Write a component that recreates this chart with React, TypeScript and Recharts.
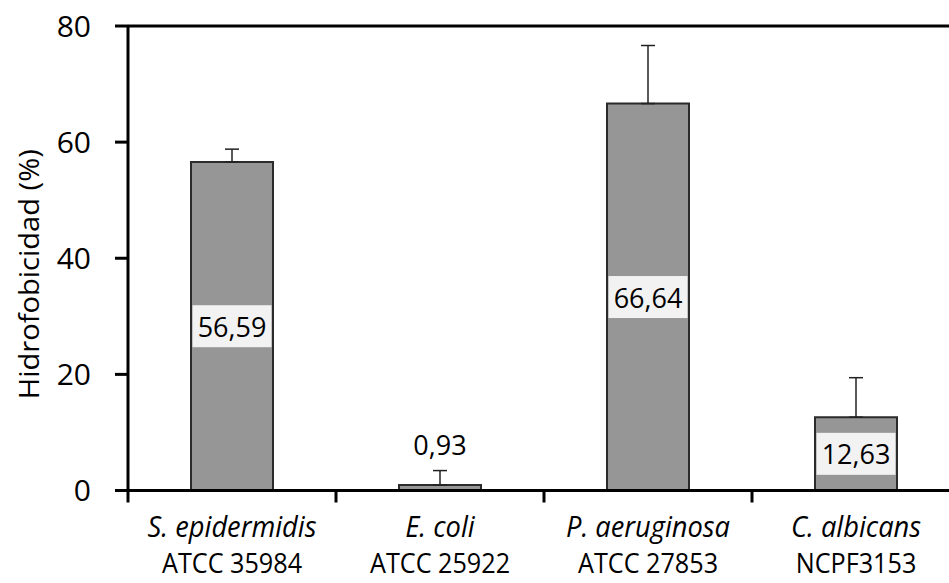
import React from 'react';
import {
  BarChart,
  Bar,
  XAxis,
  YAxis,
  ErrorBar,
  LabelList,
  Label,
  ReferenceLine,
} from 'recharts';

const species = ['S. epidermidis', 'E. coli', 'P. aeruginosa', 'C. albicans'];
const strains = ['ATCC 35984', 'ATCC 25922', 'ATCC 27853', 'NCPF3153'];
const hydrophobicity = [56.59, 0.93, 66.64, 12.63];
const deviation = [2.2, 2.5, 10.0, 6.8];
const valueLabels = ['56,59', '0,93', '66,64', '12,63'];
const yTicks = [0, 20, 40, 60, 80];

const data = species.map((s, i) => ({
  name: s,
  strain: strains[i],
  value: hydrophobicity[i],
  err: [0, deviation[i]],
  label: valueLabels[i],
}));

const FONT = '"Open Sans", "Noto Sans", sans-serif';

// two-line category label + boundary tick between categories
const CategoryTick = (props: any) => {
  const { x, y, payload, index } = props;
  const half = payload && payload.offset ? payload.offset : 104;
  return (
    <g>
      <line x1={x - half} x2={x - half} y1={y} y2={y + 12} stroke="#000" strokeWidth={3} />
      <g transform={`translate(${x}, 0) scale(0.94, 1)`}>
        <text x={0} y={y + 47} textAnchor="middle" fontFamily={FONT} fontSize={29} fontStyle="italic" fill="#000">
          {species[index]}
        </text>
      </g>
      <g transform={`translate(${x}, 0) scale(0.9, 1)`}>
        <text x={0} y={y + 83} textAnchor="middle" fontFamily={FONT} fontSize={28} fill="#000">
          {strains[index]}
        </text>
      </g>
    </g>
  );
};

const ValueLabel = (props: any) => {
  const { x, y, width, height, index } = props;
  const text = valueLabels[index];
  if (height < 50) {
    // too small for an inside label: put it above the error bar
    const ppu = height / hydrophobicity[index];
    const top = y - deviation[index] * ppu;
    return (
      <text x={x + width / 2} y={top - 26} textAnchor="middle" dominantBaseline="central" fontFamily={FONT} fontSize={27} fill="#000">
        {text}
      </text>
    );
  }
  const cy = y + height / 2;
  return (
    <g>
      <rect x={x + 1.5} y={cy - 21} width={width - 3} height={42} fill="#f2f2f2" />
      <text x={x + width / 2} y={cy} textAnchor="middle" dominantBaseline="central" fontFamily={FONT} fontSize={27} fill="#000">
        {text}
      </text>
    </g>
  );
};

const YTitle = (props: any) => {
  const vb = props.viewBox || { x: 0, y: 26, height: 464 };
  const cx = vb.x + 39;
  const cy = vb.y + vb.height / 2 + 16;
  return (
    <text
      x={cx}
      y={cy}
      transform={`rotate(-90, ${cx}, ${cy})`}
      textAnchor="middle"
      fontFamily={FONT}
      fontSize={27}
      textLength={250}
      lengthAdjust="spacingAndGlyphs"
      fill="#000"
    >
      Hidrofobicidad (%)
    </text>
  );
};

export default function App() {
  return (
    <div style={{ position: 'absolute', left: 0, top: 0, width: 949, height: 583, overflow: 'hidden', background: '#fff' }}>
      <BarChart
        width={1000}
        height={583}
        data={data}
        margin={{ top: 26, right: 40, left: 0, bottom: 0 }}
      >
        <XAxis
          dataKey="name"
          height={92.5}
          axisLine={{ stroke: '#000', strokeWidth: 3 }}
          tickLine={false}
          tickSize={0}
          tickMargin={0}
          interval={0}
          tick={<CategoryTick />}
        />
        <YAxis
          width={128}
          domain={[0, 80]}
          ticks={yTicks}
          tickSize={13}
          tickMargin={24}
          axisLine={{ stroke: '#000', strokeWidth: 3 }}
          tickLine={{ stroke: '#000', strokeWidth: 3 }}
          tick={{ fontSize: 30, fill: '#000', fontFamily: FONT }}
        >
          <Label content={<YTitle />} />
        </YAxis>
        <ReferenceLine y={80} stroke="#000" strokeWidth={3} />
        <Bar
          dataKey="value"
          barSize={82}
          fill="#969696"
          stroke="#2b2b2b"
          strokeWidth={2}
          isAnimationActive={false}
        >
          <ErrorBar dataKey="err" direction="y" width={7} stroke="#222" strokeWidth={1.5} />
          <LabelList dataKey="label" content={<ValueLabel />} />
        </Bar>
      </BarChart>
    </div>
  );
}
